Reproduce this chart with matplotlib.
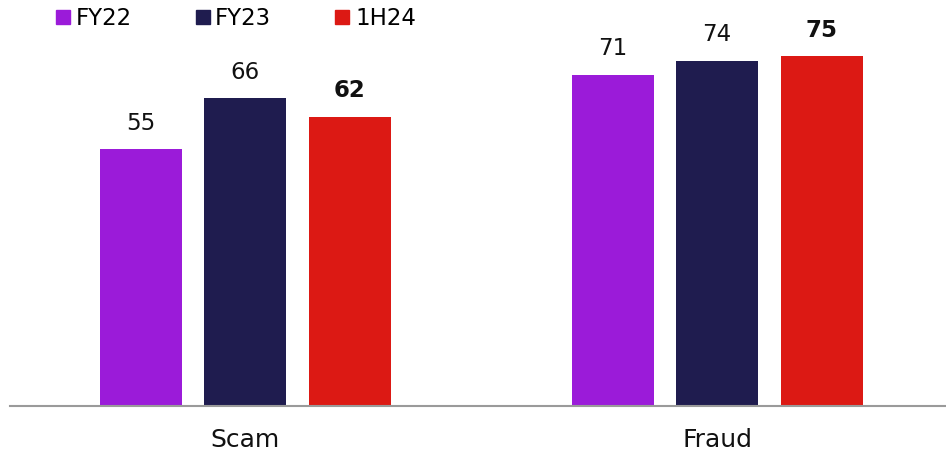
import numpy as np
import matplotlib.pyplot as plt
from matplotlib.lines import Line2D

categories = ["Scam", "Fraud"]
series = ["FY22", "FY23", "1H24"]
fy22 = [55, 71]
fy23 = [66, 74]
h124 = [62, 75]

colors = ["#9B1BD9", "#1F1C4F", "#DC1914"]

plt.rcParams['font.family'] = ['DejaVu Sans']

fig = plt.figure(figsize=(9.46, 4.58), dpi=100)
ax = fig.add_axes([10/946, 52/458, 936/946, 406/458])

x = np.arange(len(categories))
width = 0.1737
step = 0.2214
valores = [fy22, fy23, h124]

for i, vals in enumerate(valores):
    pos = x + (i - 1) * step
    ax.bar(pos, vals, width, color=colors[i], label=series[i])
    for px, v in zip(pos, vals):
        ax.annotate(str(v), (px, v), xytext=(0, 14), textcoords='offset points',
                    ha='center', va='baseline', fontsize=16.5, color='#111111',
                    fontweight='bold' if i == 2 else 'normal')

ax.set_xlim(-0.498, 1.485)
ax.set_ylim(0, 87)
ax.set_yticks([])
ax.set_xticks(x)
ax.set_xticklabels(categories, fontsize=18, color='#111111')
ax.tick_params(axis='x', length=0, pad=16)
for s in ['top', 'right', 'left']:
    ax.spines[s].set_visible(False)
ax.spines['bottom'].set_color('#9a9a9a')
ax.spines['bottom'].set_linewidth(1.5)

handles = [Line2D([], [], marker='s', linestyle='none', markersize=10,
                  markerfacecolor=c, markeredgecolor=c) for c in colors]
fig.legend(handles, series, loc='upper left', bbox_to_anchor=(56/946, 1 - 7/458),
           ncol=3, frameon=False, fontsize=16.5, handlelength=0.6,
           handletextpad=0.25, columnspacing=2.8, borderpad=0, borderaxespad=0)

fig.savefig("out.png", dpi=100)
